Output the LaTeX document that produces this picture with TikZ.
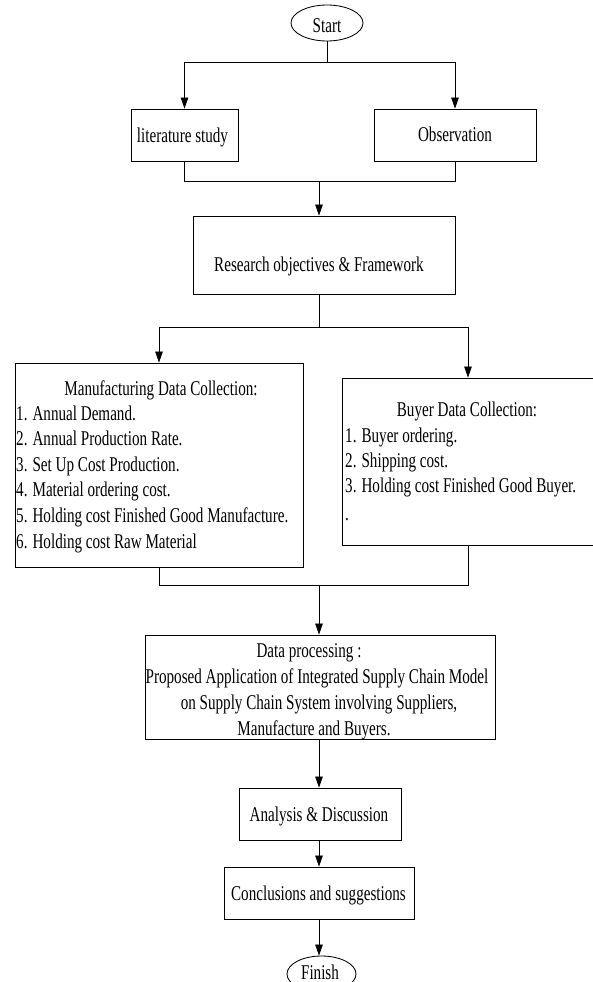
\documentclass[tikz,border=0pt]{standalone}
\usepackage{fontspec}
\setmainfont{Liberation Serif}[FakeStretch=0.72]
\usetikzlibrary{arrows.meta,shapes.geometric}
\newcommand\diagfont{\fontsize{21pt}{25.6pt}\selectfont}
\begin{document}
\begin{tikzpicture}[x=1pt,y=-1pt,
  box/.style={draw, line width=0.85pt, inner sep=0pt},
  term/.style={ellipse, draw, line width=0.85pt, inner sep=0pt},
  txt/.style={anchor=base, font=\diagfont, inner sep=0pt},
  ltxt/.style={anchor=base west, font=\diagfont, inner sep=0pt},
  conn/.style={line width=0.75pt},
  arr/.style={conn, -{Triangle[length=11pt,width=7.5pt]}}]
\fill[white] (0,0) rectangle (592,982);
\useasboundingbox (0,0) rectangle (592,982);

% shapes
\node[term, minimum width=72pt, minimum height=36pt] (start) at (327,23) {};
\node[box, minimum width=107pt, minimum height=52pt] (lit) at (184.5,135) {};
\node[box, minimum width=162pt, minimum height=52pt] (obs) at (455,135) {};
\node[box, minimum width=262pt, minimum height=78pt] (res) at (324,255) {};
\node[box, minimum width=288pt, minimum height=204pt] (mfg) at (159,465) {};
\node[box, minimum width=252pt, minimum height=167pt] (buy) at (468,461.5) {};
\node[box, minimum width=350pt, minimum height=104pt] (data) at (320,687) {};
\node[box, minimum width=162pt, minimum height=52pt] (ana) at (320,814) {};
\node[box, minimum width=190pt, minimum height=52pt] (conc) at (319,893) {};
\node[term, minimum width=69pt, minimum height=36pt] (fin) at (321.5,974) {};

% texts
\node[txt] (startT) at (327,32.7) {Start};
\node[txt] (litT) at (182.5,142) {literature study};
\node[txt] (obsT) at (455,141.7) {Observation};
\node[txt] (resT) at (319,271.7) {Research objectives \& Framework};
\node[txt] (mfgT) at (161,395) {Manufacturing Data Collection:};
\node[ltxt] (m1) at (16,420) {1. Annual Demand.};
\node[ltxt] (m2) at (16,445.6) {2. Annual Production Rate.};
\node[ltxt] (m3) at (16,471.2) {3. Set Up Cost Production.};
\node[ltxt] (m4) at (16,496.8) {4. Material ordering cost.};
\node[ltxt] (m5) at (16,522.4) {5. Holding cost Finished Good Manufacture.};
\node[ltxt] (m6) at (16,548) {6. Holding cost Raw Material};
\node[txt] (buyT) at (467,416.7) {Buyer Data Collection:};
\node[ltxt] (b1) at (345,442) {1. Buyer ordering.};
\node[ltxt] (b2) at (345,467.4) {2. Shipping cost.};
\node[ltxt] (b3) at (345,492.8) {3. Holding cost Finished Good Buyer.};
\node[ltxt] (b4) at (345,520) {.};
\node[txt] (d1) at (309,657) {Data processing :};
\node[txt] (d2) at (317,683.5) {Proposed Application of Integrated Supply Chain Model};
\node[txt] (d3) at (319,709.5) {on Supply Chain System involving Suppliers,};
\node[txt] (d4) at (314,735) {Manufacture and Buyers.};
\node[txt] (anaT) at (319,821.7) {Analysis \& Discussion};
\node[txt] (concT) at (318.5,900) {Conclusions and suggestions};
\node[txt] (finT) at (320,979) {Finish};

% junctions
\coordinate (j1) at (327,62);
\coordinate (j2) at (319,181);
\coordinate (j3) at (319,327);
\coordinate (j4) at (319,585);

% connectors
\draw[conn] (start.south) -- (j1);
\draw[arr] (j1) -| (lit.north);
\draw[arr] (j1) -| (obs.north);
\draw[conn] (lit.south) |- (obs.south |- j2) -- (obs.south);
\draw[arr] (j2) -- (j2 |- res.north);
\draw[conn] (j2 |- res.south) -- (j3);
\draw[arr] (j3) -| (mfg.north);
\draw[arr] (j3) -| (buy.north);
\draw[conn] (mfg.south) |- (buy.south |- j4) -- (buy.south);
\draw[arr] (j4) -- (j4 |- data.north);
\draw[arr] (j4 |- data.south) -- (j4 |- ana.north);
\draw[arr] (j4 |- ana.south) -- (j4 |- conc.north);
\draw[arr] (j4 |- conc.south) -- (j4 |- fin.north);
\end{tikzpicture}
\end{document}
